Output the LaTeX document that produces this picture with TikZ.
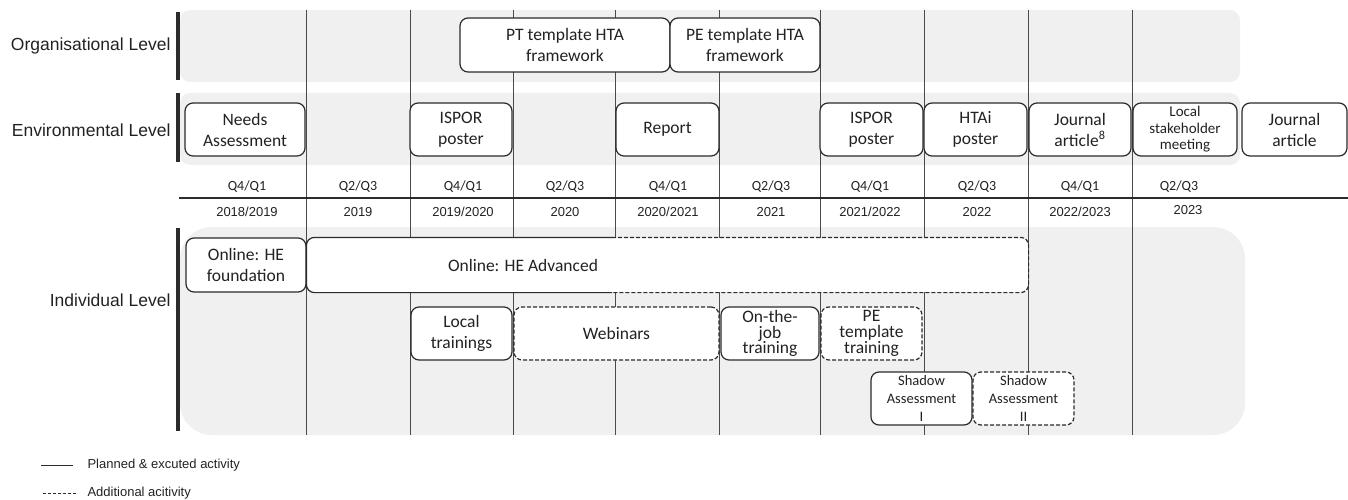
\documentclass[tikz,border=0pt]{standalone}
\usepackage{fontspec}
\setmainfont{Carlito}
\newfontfamily\arialf{Liberation Sans}
\definecolor{bandgray}{HTML}{F0F0F0}
\definecolor{boxline}{HTML}{2B2B2B}
\definecolor{gridline}{HTML}{4A4A4A}
\definecolor{textgray}{HTML}{222222}

\begin{document}
\begin{tikzpicture}[x=1pt,y=-1pt,
    band/.style={fill=bandgray, draw=none},
    act/.style={draw=boxline, fill=white, line width=1.2pt, rounded corners=8pt,
      align=center, inner sep=0pt, text=textgray, font=\fontsize{17.5}{21}\selectfont},
    extra/.style={act, dash pattern=on 4pt off 2pt},
    lvl/.style={anchor=east, text=textgray, font=\arialf\fontsize{17.5}{21}\selectfont},
    qlabel/.style={text=textgray, font=\fontsize{14}{16}\selectfont},
    ylabel/.style={text=textgray, font=\arialf\fontsize{13}{15}\selectfont},
    legend/.style={anchor=west, text=textgray, font=\arialf\fontsize{13}{15}\selectfont}]
  \useasboundingbox (0,0) rectangle (1348,500);

  % bands
  \fill[band, rounded corners=10pt] (180,10) rectangle (1240,82);
  \fill[band, rounded corners=10pt] (180,93) rectangle (1240,165);
  \fill[band, rounded corners=32pt] (180,227) rectangle (1245,435);

  % time grid
  \foreach \x in {306,410,513,615,719,820,924,1028,1132}
    \draw[gridline, line width=1pt] (\x,10) -- (\x,435);
  \draw[boxline, line width=2pt] (179,198) -- (1348,198);
  \foreach \x/\q/\yr in {247/Q4\slash Q1/2018\slash 2019, 358/Q2\slash Q3/2019,
      463/Q4\slash Q1/2019\slash 2020, 565/Q2\slash Q3/2020,
      668/Q4\slash Q1/2020\slash 2021, 771/Q2\slash Q3/2021,
      870/Q4\slash Q1/2021\slash 2022, 977/Q2\slash Q3/2022,
      1080/Q4\slash Q1/2022\slash 2023}
  {
    \node[qlabel] at (\x,187) {\q};
    \node[ylabel] at (\x,212) {\yr};
  }
  \node[qlabel] (q10) at (1179,187) {Q2/Q3};
  \node[ylabel] (y10) at (1188,210) {2023};

  % level bars and labels
  \fill[boxline] (176,12) rectangle (180,80);
  \fill[boxline] (176,93) rectangle (180,162);
  \fill[boxline] (176,228) rectangle (180,431);
  \node[lvl] (org) at (174,46) {Organisational Level};
  \node[lvl] (env) at (174,130) {Environmental Level};
  \node[lvl] (ind) at (174,300) {Individual Level};

  % organisational level
  \node[act, minimum width=210, minimum height=54] (ptfw) at (565,45) {PT template HTA\\framework};
  \node[act, minimum width=150, minimum height=54] (pefw) at (745,45) {PE template HTA\\framework};

  % environmental level
  \node[act, minimum width=120, minimum height=53] (needs) at (245,129.5) {Needs\\Assessment};
  \node[act, minimum width=102, minimum height=53] (ispor1) at (461,129.5) {ISPOR\\poster};
  \node[act, minimum width=103, minimum height=53] (report) at (667.5,129.5) {Report};
  \node[act, minimum width=103, minimum height=53] (ispor2) at (871.5,129.5) {ISPOR\\poster};
  \node[act, minimum width=103, minimum height=53] (htai) at (975.5,129.5) {HTAi\\poster};
  \node[act, minimum width=102, minimum height=53] (jour1) at (1080,129.5) {Journal\\article\textsuperscript{8}};
  \node[act, minimum width=104, minimum height=53, font=\fontsize{15}{16.5}\selectfont] (stake) at (1185,129.5) {Local\\stakeholder\\meeting};
  \node[act, minimum width=105, minimum height=53] (jour2) at (1294.5,129.5) {Journal\\article};

  % individual level
  \node[act, minimum width=120, minimum height=54] (found) at (246,265) {Online: HE\\foundation};
  \node[act, draw=none, minimum width=721, minimum height=54] (adv) at (667.5,265) {};
  \draw[boxline, line width=1.2pt, rounded corners=8pt] (adv.north -| 612,0) -- (adv.north west) -- (adv.south west) -- (adv.south -| 612,0);
  \draw[boxline, line width=1.2pt, rounded corners=8pt, dash pattern=on 4pt off 2pt] (adv.north -| 612,0) -- (adv.north east) -- (adv.south east) -- (adv.south -| 612,0);
  \node[text=textgray, font=\fontsize{17.5}{21}\selectfont] (advtext) at (523,265) {Online: HE Advanced};
  \node[act, minimum width=101, minimum height=53] (local) at (461.5,333.5) {Local\\trainings};
  \node[extra, minimum width=205, minimum height=53] (webinar) at (616.5,333.5) {Webinars};
  \node[act, minimum width=98, minimum height=53, font=\fontsize{17.5}{15.8}\selectfont] (ojt) at (770,333.5) {On-the-\\job\\training};
  \node[extra, minimum width=101, minimum height=53, font=\fontsize{17.5}{15.8}\selectfont] (petrain) at (871.5,333.5) {PE\\template\\training};
  \node[act, minimum width=101, minimum height=53, font=\fontsize{14.5}{18}\selectfont] (shadow1) at (921.5,398.5) {Shadow\\Assessment\\I};
  \node[extra, minimum width=101, minimum height=53, font=\fontsize{14.5}{18}\selectfont] (shadow2) at (1023.5,398.5) {Shadow\\Assessment\\II};

  % legend
  \coordinate (l1a) at (41,465);
  \coordinate (l1b) at (73,465);
  \coordinate (l2a) at (43,493);
  \coordinate (l2b) at (76,493);
  \draw[boxline, line width=1pt] (l1a) -- (l1b);
  \draw[boxline, line width=1pt, dash pattern=on 3pt off 2pt] (l2a) -- (l2b);
  \node[legend] (leg1) at (84,465) {Planned \& excuted activity};
  \node[legend] (leg2) at (84,493) {Additional acitivity};
\end{tikzpicture}
\end{document}
